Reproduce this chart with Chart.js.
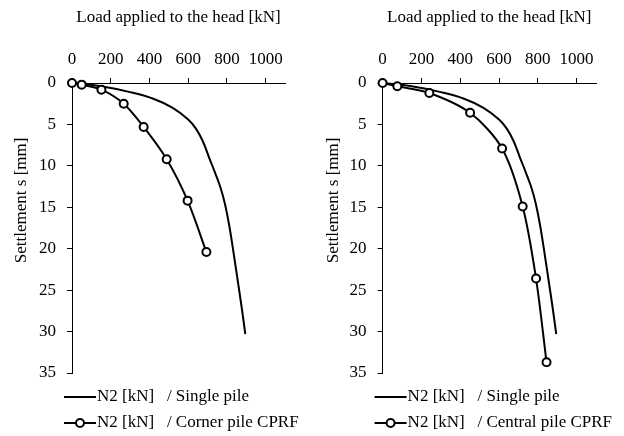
<!DOCTYPE html>
<html>
<head>
<meta charset="utf-8">
<script src="https://cdn.jsdelivr.net/npm/chart.js@4.4.1/dist/chart.umd.min.js"></script>
<style>
  html, body { margin: 0; padding: 0; background: #fff; }
  .wrap { display: flex; width: 624px; height: 436px; }
  canvas { display: block; }
</style>
</head>
<body>
<div class="wrap">
  <canvas id="chartCorner" width="312" height="436"></canvas>
  <canvas id="chartCentral" width="312" height="436"></canvas>
</div>
<script>
// Single pile load-settlement curve (same on both panels)
const singleLoad   = [0, 150, 300, 420, 520, 600, 640, 675, 708, 740, 768, 790, 812, 835, 860, 880, 895];
const singleSettle = [0, 0.4, 1.1, 1.9, 3.0, 4.4, 5.5, 7.0, 9.0, 10.9, 12.7, 14.6, 17.2, 20.6, 24.5, 27.7, 30.3];

// Corner pile of the CPRF
const cornerLoad   = [0, 50, 152, 267, 370, 489, 597, 694];
const cornerSettle = [0, 0.2, 0.8, 2.5, 5.3, 9.2, 14.2, 20.4];

// Central pile of the CPRF
const centralLoad   = [0, 76, 241, 451, 616, 722, 791, 845];
const centralSettle = [0, 0.4, 1.2, 3.6, 7.9, 14.9, 23.6, 33.7];

const xTitle = "Load applied to the head [kN]";
const yTitle = "             Settlement s [mm]";
const singleLabel  = "N2 [kN]   / Single pile";
const cornerLabel  = "N2 [kN]   / Corner pile CPRF";
const centralLabel = "N2 [kN]   / Central pile CPRF";

Chart.defaults.font.family = '"Liberation Serif", "Times New Roman", serif';
Chart.defaults.font.size = 17;
Chart.defaults.color = "#000";

const toPoints = (xs, ys) => xs.map((x, i) => ({ x, y: ys[i] }));

// legend drawn as rows under the plot, line sample + marker + text
const rowLegend = {
  id: "rowLegend",
  afterDraw(chart) {
    const ctx = chart.ctx;
    const left = chart.chartArea.left - 8;
    chart.data.datasets.forEach((ds, i) => {
      const y = chart.chartArea.bottom + 24 + i * 26;
      ctx.save();
      ctx.strokeStyle = "#000";
      ctx.lineWidth = 2;
      ctx.beginPath();
      ctx.moveTo(left, y);
      ctx.lineTo(left + 32, y);
      ctx.stroke();
      if (ds.pointRadius > 0) {
        ctx.beginPath();
        ctx.arc(left + 16, y, ds.pointRadius, 0, Math.PI * 2);
        ctx.fillStyle = "#fff";
        ctx.fill();
        ctx.stroke();
      }
      ctx.fillStyle = "#000";
      ctx.font = '17px "Liberation Serif", "Times New Roman", serif';
      ctx.textBaseline = "middle";
      ctx.textAlign = "left";
      ctx.fillText(ds.label, left + 33, y);
      ctx.restore();
    });
  }
};

function makeChart(id, cprfLabel, cprfLoad, cprfSettle, axisLeft, plotRight) {
  return new Chart(document.getElementById(id), {
    type: "line",
    data: {
      datasets: [
        {
          label: singleLabel,
          data: toPoints(singleLoad, singleSettle),
          borderColor: "#000",
          borderWidth: 2,
          pointRadius: 0,
          tension: 0.4,
          clip: false,
          order: 1
        },
        {
          label: cprfLabel,
          data: toPoints(cprfLoad, cprfSettle),
          borderColor: "#000",
          borderWidth: 2,
          pointRadius: 4,
          pointBorderWidth: 2,
          pointBackgroundColor: "#fff",
          pointBorderColor: "#000",
          tension: 0.3,
          clip: false,
          order: 0
        }
      ]
    },
    options: {
      responsive: false,
      animation: false,
      layout: { padding: { left: 0, right: 312 - plotRight, top: 0, bottom: 63 } },
      plugins: { legend: { display: false }, tooltip: { enabled: false } },
      scales: {
        x: {
          type: "linear",
          position: "top",
          min: 0,
          max: 1100,
          ticks: { stepSize: 200, includeBounds: false, padding: 8, maxRotation: 0, callback: v => String(v) },
          grid: { drawOnChartArea: false, tickLength: 5, color: "#000" },
          border: { color: "#000", width: 1 },
          title: { display: true, text: xTitle, padding: { top: 7, bottom: 0 } },
          afterFit: s => { s.height = 83; }
        },
        y: {
          type: "linear",
          reverse: true,
          min: 0,
          max: 35,
          ticks: { stepSize: 5, padding: 11, callback: v => String(v) },
          grid: { drawOnChartArea: false, tickLength: 5, color: "#000" },
          border: { color: "#000", width: 1 },
          title: { display: true, text: yTitle, padding: { top: 11, bottom: 0 } },
          afterFit: s => { s.width = axisLeft; }
        }
      }
    },
    plugins: [rowLegend]
  });
}

makeChart("chartCorner", cornerLabel, cornerLoad, cornerSettle, 72, 285);
makeChart("chartCentral", centralLabel, centralLoad, centralSettle, 70.6, 284);
</script>
</body>
</html>
